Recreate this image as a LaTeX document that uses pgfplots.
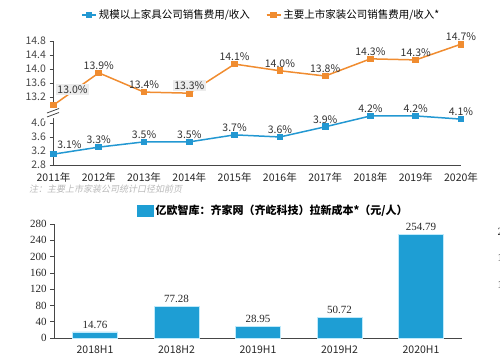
\documentclass[border=0pt]{standalone}
\usepackage{pgfplots}
\usepackage{pgfplotstable}
\pgfplotsset{compat=1.18}
\usepackage{fontspec}
\setmainfont{Noto Sans CJK SC}
\newfontfamily\serifnum{Liberation Serif}
\newfontfamily\cjkit[FakeSlant=0.2]{Noto Sans CJK SC}
\definecolor{lblue}{RGB}{35,152,210}
\definecolor{lorange}{RGB}{240,140,48}
\definecolor{barblue}{RGB}{30,158,212}
\definecolor{axgray}{RGB}{70,70,70}
\definecolor{notegray}{RGB}{185,185,185}
\definecolor{boxgray}{RGB}{236,236,236}

\pgfplotstableread{
x y lab
0 12.97 13.0
1 13.89 13.9
2 13.34 13.4
3 13.31 13.3
4 14.14 14.1
5 13.95 14.0
6 13.80 13.8
7 14.29 14.3
8 14.26 14.3
9 14.71 14.7
}\orangedata
\pgfplotstableread{
x y lab
0 3.11 3.1
1 3.31 3.3
2 3.46 3.5
3 3.46 3.5
4 3.66 3.7
5 3.60 3.6
6 3.89 3.9
7 4.20 4.2
8 4.20 4.2
9 4.11 4.1
}\bluedata
\pgfplotstableread{
x y
0 14.76
1 77.28
2 28.95
3 50.72
4 254.79
}\bardata

\pgfplotsset{
  /pgf/number format/assume math mode=true,
  every axis/.append style={
    axis line style={axgray, line width=0.7pt},
    tick style={axgray, line width=0.7pt},
    tick align=outside,
    major tick length=4pt,
  },
  pctlabel/.style={draw=none, forget plot, point meta=explicit,
    nodes near coords={\pgfmathprintnumber[fixed,fixed zerofill,precision=1]{\pgfplotspointmeta}\%},
    every node near coord/.append style={font=\fontsize{10.5}{12}\selectfont, text=black!80,
      anchor=south, yshift=1.5pt, inner sep=1.5pt}},
}

\begin{document}
\begin{tikzpicture}[x=1pt,y=1pt]
\useasboundingbox (0,0) rectangle (500,357);

% ---------- upper part of broken axis ----------
\begin{axis}[
  at={(53.5pt,249pt)}, anchor=south west,
  scale only axis, width=407.5pt, height=67pt,
  xmin=0, xmax=9, ymin=12.886, ymax=14.8,
  axis x line=none, axis y line*=left,
  ytick={13.2,13.6,14.0,14.4,14.8},
  yticklabel={\pgfmathprintnumber[fixed,fixed zerofill,precision=1]{\tick}},
  yticklabel style={font=\fontsize{10.5}{12}\selectfont, text=axgray},
  clip=false,
  legend style={at={(0.51,1.39)}, anchor=center, draw=none, fill=none,
    legend columns=2, font=\fontsize{10.5}{12}\selectfont,
    /tikz/every even column/.append style={column sep=14pt}},
  legend image code/.code={
    \draw[#1] (0pt,0pt) -- (14pt,0pt);
    \draw[#1, mark repeat=2, mark phase=2] plot coordinates {(0pt,0pt) (7pt,0pt) (14pt,0pt)};
  },
]
\addlegendimage{lblue, line width=1.5pt, mark=square*, mark size=2pt, mark options={solid}}
\addlegendentry{规模以上家具公司销售费用/收入}
\addplot[lorange, line width=1.5pt, mark=square*, mark size=2.6pt]
  table[x=x, y=y] {\orangedata};
\addlegendentry{主要上市家装公司销售费用/收入*}
\addplot[pctlabel] coordinates {(1,13.89)[13.9] (2,13.34)[13.4] (4,14.14)[14.1] (5,13.95)[14.0] (6,13.80)[13.8] (7,14.29)[14.3] (8,14.26)[14.3] (9,14.71)[14.7]};
\addplot[pctlabel, every node near coord/.append style={fill=boxgray}] coordinates {(3,13.31)[13.3]};
\addplot[pctlabel, every node near coord/.append style={fill=boxgray, xshift=19pt, yshift=8pt}] coordinates {(0,12.97)[13.0]};
\end{axis}

% ---------- lower part of broken axis ----------
\begin{axis}[
  at={(53.5pt,192pt)}, anchor=south west,
  scale only axis, width=407.5pt, height=48pt,
  xmin=0, xmax=9, ymin=2.8, ymax=4.17,
  axis x line*=bottom, axis y line*=left,
  ytick={2.8,3.2,3.6,4.0},
  yticklabel={\pgfmathprintnumber[fixed,fixed zerofill,precision=1]{\tick}},
  yticklabel style={font=\fontsize{10.5}{12}\selectfont, text=axgray},
  xtick={0,...,9},
  xticklabels={2011年,2012年,2013年,2014年,2015年,2016年,2017年,2018年,2019年,2020年},
  xticklabel style={font=\fontsize{10.5}{12}\selectfont, text=black!85},
  x tick style={draw=none},
  clip=false,
]
\addplot[lblue, line width=1.5pt, mark=square*, mark size=2.6pt]
  table[x=x, y=y] {\bluedata};
\addplot[pctlabel] coordinates {(1,3.31)[3.3] (2,3.46)[3.5] (3,3.46)[3.5] (4,3.66)[3.7] (5,3.60)[3.6] (6,3.89)[3.9] (7,4.20)[4.2] (8,4.20)[4.2] (9,4.11)[4.1]};
\addplot[pctlabel, every node near coord/.append style={xshift=16pt, yshift=2pt}] coordinates {(0,3.11)[3.1]};
\end{axis}

% break marks on the y axis
\fill[white] (44,243) -- (60,248) -- (60,241) -- (44,236) -- cycle;
\draw[axgray, line width=0.8pt] (47,244) -- (59,248.5);
\draw[axgray, line width=0.8pt] (47,240) -- (59,244.5);

% footnote
\node[anchor=west, inner sep=0pt, text=notegray, font=\cjkit\fontsize{9}{10}\selectfont] at (29,168) {注：主要上市家装公司统计口径如前页};

% ---------- bar chart ----------
\begin{axis}[
  at={(54.25pt,19pt)}, anchor=south west,
  scale only axis, width=407.5pt, height=114pt,
  xmin=-0.5, xmax=4.5, ymin=0, ymax=280,
  axis x line*=bottom, axis y line*=left,
  ytick={0,40,...,280},
  yticklabel style={font=\serifnum\fontsize{11}{12}\selectfont, text=black!85},
  xtick={0,...,4},
  xticklabels={2018H1,2018H2,2019H1,2019H2,2020H1},
  xticklabel style={font=\fontsize{10.5}{12}\selectfont, text=black!85},
  x tick style={draw=none},
  ybar, bar width=45pt,
  clip=false,
  legend style={at={(0.195,1.115)}, anchor=west, draw=none, fill=none,
    font=\bfseries\fontsize{11}{12}\selectfont},
  legend image code/.code={\fill[barblue] (0pt,-5pt) rectangle (16pt,6pt);},
]
\addplot[fill=barblue, draw=cyan!25, line width=0.6pt, point meta=y,
  nodes near coords={\pgfmathprintnumber[fixed,fixed zerofill,precision=2]{\pgfplotspointmeta}},
  every node near coord/.append style={font=\serifnum\fontsize{11}{12}\selectfont, text=black!85}]
  table[x=x, y=y] {\bardata};
\addlegendentry{亿欧智库：齐家网（齐屹科技）拉新成本*（元/人）}
\end{axis}

% cut-off fragments of a neighbouring chart at the right edge
\node[anchor=west, font=\serifnum\fontsize{11}{12}\selectfont, text=black!85] at (494,125) {2};
\node[anchor=west, font=\serifnum\fontsize{11}{12}\selectfont, text=black!85] at (494,99) {1};
\node[anchor=west, font=\serifnum\fontsize{11}{12}\selectfont, text=black!85] at (494,72) {1};
\end{tikzpicture}
\end{document}
